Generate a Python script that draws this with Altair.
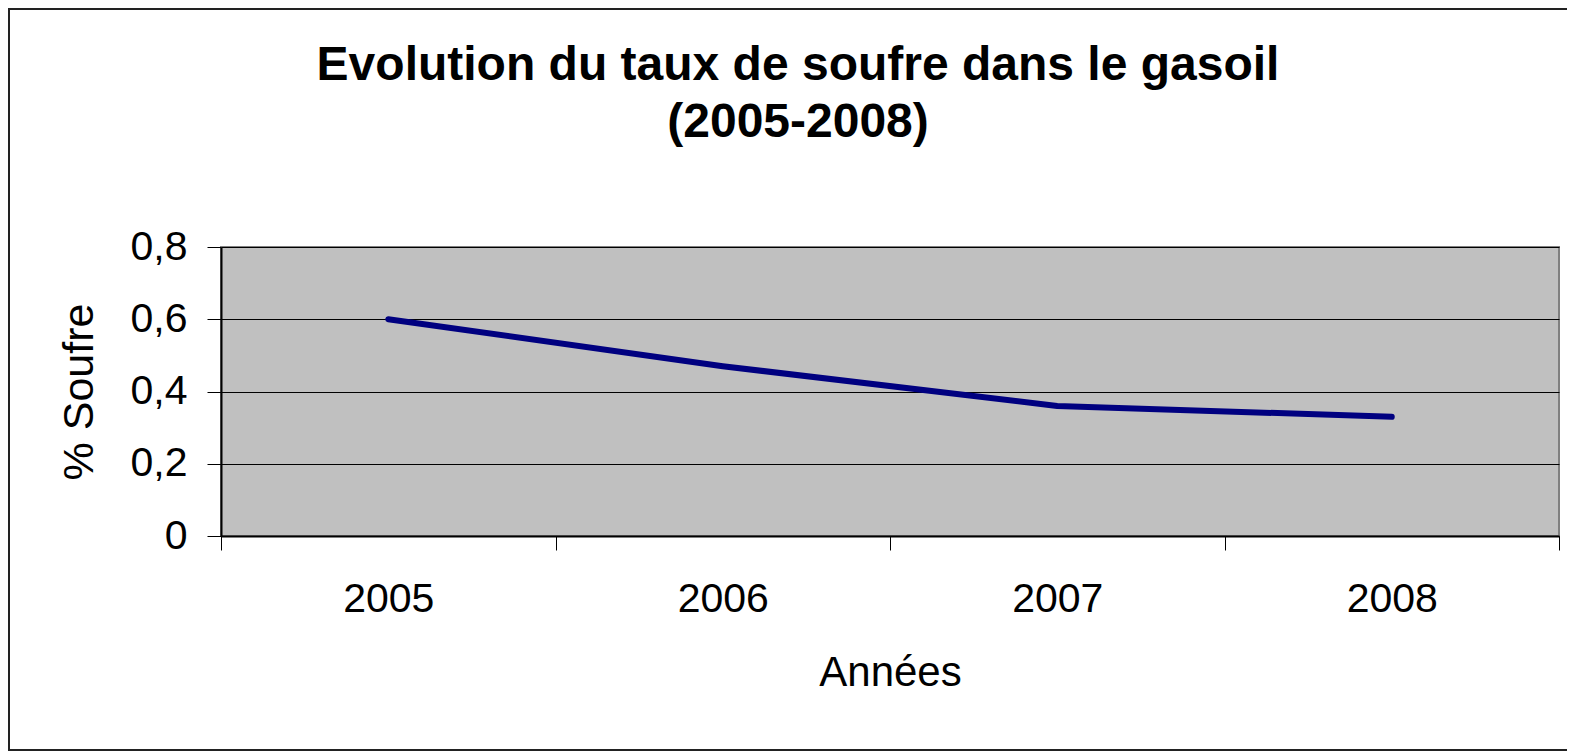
import altair as alt
import pandas as pd

years = ["2005", "2006", "2007", "2008"]
soufre = [0.60, 0.47, 0.36, 0.33]
y_ticks = [0, 0.2, 0.4, 0.6, 0.8]
title_lines = ["Evolution du taux de soufre dans le gasoil", "(2005-2008)"]

df = pd.DataFrame({"Année": years, "Soufre": soufre})
FONT = "Liberation Sans"

frame = alt.Chart(pd.DataFrame({"k": [0]})).mark_rect(
    fill="white", fillOpacity=0, stroke="#222222", strokeWidth=2
).encode(
    x=alt.value(-212), x2=alt.value(1370), y=alt.value(-238), y2=alt.value(503)
)

line = alt.Chart(df).mark_line(
    color="#000080", strokeWidth=6, strokeCap="round", strokeJoin="round"
).encode(
    x=alt.X(
        "Année:N",
        bandPosition=0.5,
        sort=years,
        scale=alt.Scale(type="band", paddingInner=0, paddingOuter=0),
        axis=alt.Axis(
            title="Années", labelAngle=0, tickBand="extent", grid=False,
            domainColor="black", domainWidth=2, tickColor="black", tickWidth=1,
            tickSize=14, labelPadding=29, titlePadding=33,
            labelFontSize=41, titleFontSize=42, labelFont=FONT, titleFont=FONT,
            titleFontWeight="normal", labelColor="black", titleColor="black",
        ),
    ),
    y=alt.Y(
        "Soufre:Q",
        scale=alt.Scale(domain=[0, 0.8], nice=False),
        axis=alt.Axis(
            title="% Soufre", values=y_ticks,
            labelExpr="replace(format(datum.value, '.1~f'), '.', ',')",
            grid=True, gridColor="black", gridWidth=1,
            domainColor="black", domainWidth=2, tickColor="black", tickWidth=1,
            tickSize=14, labelPadding=20, titlePadding=29,
            labelFontSize=41, titleFontSize=43, labelFont=FONT, titleFont=FONT,
            titleFontWeight="normal", labelColor="black", titleColor="black",
        ),
    ),
)

chart = alt.layer(frame, line).properties(
    width=1338,
    height=289,
    padding={"left": 213, "top": 239, "right": 8, "bottom": 216},
    autosize="none",
    background="white",
    title=alt.TitleParams(
        title_lines, font=FONT, fontSize=48, fontWeight="bold", color="black",
        anchor="middle", frame="group", dx=-92, offset=-139, lineHeight=57,
    ),
).configure_view(fill="#C0C0C0", stroke="#808080", strokeWidth=2)

chart.save("out.html", embed_options={"renderer": "svg", "actions": False})
